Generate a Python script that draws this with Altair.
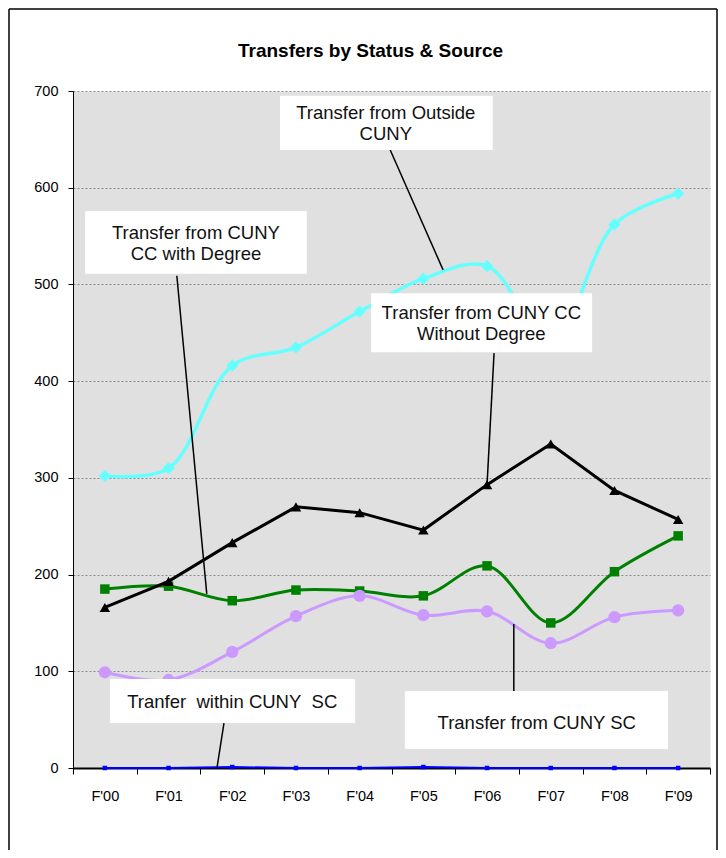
import altair as alt
import pandas as pd

# ---- data ----
cats = ["F'00", "F'01", "F'02", "F'03", "F'04", "F'05", "F'06", "F'07", "F'08", "F'09"]
outside_cuny = [302, 310, 416, 435, 472, 506, 519, 440, 562, 594]
cc_without_degree = [166, 193, 233, 270, 264, 246, 293, 335, 287, 257]
cc_with_degree = [185, 188, 173, 184, 183, 178, 209, 150, 203, 240]
from_cuny_sc = [99, 91, 120, 157, 178, 158, 162, 129, 156, 163]
within_cuny_sc = [0, 0, 1, 0, 0, 1, 0, 0, 0, 0]

series_names = ["Outside CUNY", "CC Without Degree", "CC With Degree", "From CUNY SC", "Within CUNY SC"]
series_values = [outside_cuny, cc_without_degree, cc_with_degree, from_cuny_sc, within_cuny_sc]

chart_title = "Transfers by Status & Source"

# annotation callouts (in data units: x = category index, y = value)
ann_text = ["Transfer from Outside\nCUNY", "Transfer from CUNY\nCC with Degree",
            "Transfer from CUNY CC\nWithout Degree", "Tranfer\u00a0 within CUNY\u00a0 SC",
            "Transfer from CUNY SC"]
box_x1 = [2.75, -0.31, 4.18, 0.08, 4.71]
box_x2 = [6.09, 3.17, 7.65, 3.93, 8.84]
box_y1 = [695, 576, 491, 92, 79.6]
box_y2 = [639, 511, 430, 46.5, 19.6]
text_x = [4.41, 1.43, 5.91, 2.0, 6.78]
text_y = [677, 553, 470.5, 68, 46.5]
lead_x1 = [4.48, 1.13, 6.11, 1.87, 6.42]
lead_y1 = [639, 509, 429, 46.5, 79.6]
lead_x2 = [5.31, 1.60, 6.0, 1.76, 6.42]
lead_y2 = [515, 180, 293, 0, 149]

rows = []
for name, vals in zip(series_names, series_values):
    for c, v in zip(cats, vals):
        rows.append({"year": c, "series": name, "value": v})
df = pd.DataFrame(rows)

ann = pd.DataFrame({
    "text": ann_text, "bx1": box_x1, "bx2": box_x2, "by1": box_y1, "by2": box_y2,
    "tx": text_x, "ty": text_y, "lx1": lead_x1, "ly1": lead_y1, "lx2": lead_x2, "ly2": lead_y2,
})

FONT = "Liberation Sans"
W, H = 637, 677
YDOM = [0, 700]

xband = alt.Scale(type="band", paddingInner=0, paddingOuter=0)
yscale = alt.Scale(domain=YDOM, nice=False, zero=True)

x_axis = alt.Axis(tickBand="extent", labelAngle=0, domainColor="black", domainWidth=2,
                  tickColor="black", tickSize=6, tickWidth=1, labelFont=FONT, labelFontSize=14.5,
                  labelColor="black", labelPadding=15, grid=False, title=None)
y_axis = alt.Axis(values=list(range(0, 701, 100)), grid=True, gridDash=[2, 2], gridColor="#8a8a8a",
                  gridWidth=1, domainColor="black", domainWidth=1, tickColor="black", tickSize=5,
                  labelFont=FONT, labelFontSize=14.5, labelColor="black", labelPadding=10, title=None)


def series_layer(name, color, shape, size, interp, sw):
    base = alt.Chart(df).transform_filter(alt.datum.series == name)
    x = alt.X("year:N", sort=cats, scale=xband, axis=x_axis)
    y = alt.Y("value:Q", scale=yscale, axis=y_axis)
    line = base.mark_line(color=color, strokeWidth=sw, interpolate=interp).encode(x=x, y=y)
    pts = base.mark_point(shape=shape, size=size, filled=True, color=color, opacity=1,
                          strokeWidth=0).encode(x=x, y=y)
    return [line, pts]


layers = []
layers += series_layer("CC With Degree", "#008000", "square", 90, "catmull-rom", 3)
layers += series_layer("From CUNY SC", "#cc99ff", "circle", 150, "catmull-rom", 3)
layers += series_layer("Outside CUNY", "#66ffff", "diamond", 150, "catmull-rom", 3.5)
layers += series_layer("CC Without Degree", "black", "triangle-up", 110, "linear", 3)
layers += series_layer("Within CUNY SC", "#0000ff", "square", 20, "linear", 2)
series_group = alt.layer(*layers)

xq = alt.Scale(domain=[-0.5, 9.5], nice=False, zero=False)
abase = alt.Chart(ann)
boxes = abase.mark_rect(fill="white").encode(
    x=alt.X("bx1:Q", scale=xq, axis=None), x2="bx2:Q",
    y=alt.Y("by1:Q", scale=yscale, axis=y_axis), y2="by2:Q")
leads = abase.mark_rule(color="black", strokeWidth=1.5).encode(
    x=alt.X("lx1:Q", scale=xq, axis=None), x2="lx2:Q",
    y=alt.Y("ly1:Q", scale=yscale, axis=y_axis), y2="ly2:Q")
texts = abase.mark_text(font=FONT, fontSize=18.5, color="#111111", align="center",
                        baseline="middle", lineBreak="\n", lineHeight=21).encode(
    x=alt.X("tx:Q", scale=xq, axis=None),
    y=alt.Y("ty:Q", scale=yscale, axis=y_axis),
    text="text:N")
ann_group = alt.layer(leads, boxes, texts)

one = pd.DataFrame({"k": [0]})
title_mark = alt.Chart(one).mark_text(font=FONT, fontSize=19, fontWeight="bold", color="black",
                                      align="center", baseline="middle").encode(
    x=alt.value(W / 2 - 21), y=alt.value(-40), text=alt.value(chart_title))
frame_left = alt.Chart(one).mark_rule(color="black", strokeWidth=1.5).encode(
    x=alt.value(-64), y=alt.value(-82), y2=alt.value(H + 82))
frame_top = alt.Chart(one).mark_rule(color="black", strokeWidth=1.5).encode(
    x=alt.value(-64), x2=alt.value(W + 7), y=alt.value(-82))
frame_right = alt.Chart(one).mark_rule(color="black", strokeWidth=1.5).encode(
    x=alt.value(W + 7), y=alt.value(-82), y2=alt.value(H + 82))

chart = alt.layer(series_group, ann_group, title_mark, frame_left, frame_top, frame_right).resolve_scale(
    x="independent"
).properties(
    width=W, height=H,
    autosize=alt.AutoSizeParams(type="none"),
    padding={"left": 65, "top": 83, "right": 8, "bottom": 82},
    background="white",
).configure_view(stroke="transparent", fill="#e0e0e0")

chart.save("out.html", embed_options={"renderer": "svg", "actions": False})
